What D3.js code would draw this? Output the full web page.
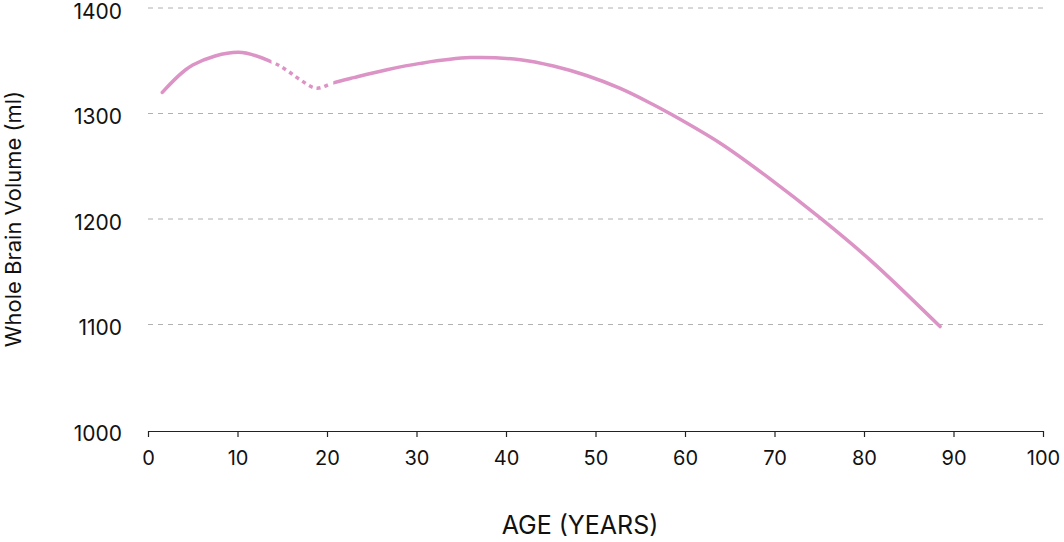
<!DOCTYPE html>
<html>
<head>
<meta charset="utf-8">
<script src="https://cdn.jsdelivr.net/npm/d3@7"></script>
<style>
  html, body { margin: 0; padding: 0; background: #fff; }
  svg { display: block; }
  text { font-family: Inter, "Noto Sans", sans-serif; fill: #111; }
</style>
</head>
<body>
<svg id="chart" width="1064" height="542"></svg>
<script>
// Data
const ages    = [1.6, 5.0, 10.1, 13.8, 15.5, 17.0, 18.8, 20.7, 23.0, 26.7, 30.4, 36.0, 41.6, 45.3, 49.0, 52.7, 56.1, 58.3, 63.9, 69.5, 75.1, 80.7, 88.5];
const volumes = [1320, 1346, 1358, 1349, 1341, 1332, 1324, 1329, 1334, 1341.5, 1347.5, 1353, 1351, 1345, 1336, 1324, 1310, 1300, 1272, 1238, 1201, 1161, 1098];
const dottedRange = [13.8, 20.7];
const xTicks = [0, 10, 20, 30, 40, 50, 60, 70, 80, 90, 100];
const yTicks = [1000, 1100, 1200, 1300, 1400];
const xTitle = "AGE (YEARS)";
const yTitle = "Whole Brain Volume (ml)";

(function () {
const svg = d3.select("#chart");
const mLeft = 148, mRight = 1043, mTop = 8, mBottom = 430;
const x = d3.scaleLinear().domain([0, 100]).range([mLeft, mRight]);
const y = d3.scaleLinear().domain([1000, 1400]).range([mBottom, mTop]);
const color = "#dc93c5";

// gridlines
svg.append("g").selectAll("line")
  .data(yTicks.filter(d => d > 1000))
  .join("line")
  .attr("x1", mLeft).attr("x2", mRight)
  .attr("y1", d => y(d)).attr("y2", d => y(d))
  .attr("stroke", "#b0b0b0").attr("stroke-width", 1)
  .attr("stroke-dasharray", "5,5");

// y labels
svg.append("g").selectAll("text")
  .data(yTicks)
  .join("text")
  .attr("x", 122).attr("y", d => y(d) + 3)
  .attr("dy", "0.36em")
  .attr("text-anchor", "end")
  .style("font-size", "21px")
  .text(d => d);

// x axis
const xAxis = svg.append("g")
  .attr("transform", `translate(0,${mBottom + 1})`)
  .call(d3.axisBottom(x).tickValues(xTicks).tickSize(6).tickSizeOuter(0).tickPadding(14));
xAxis.select(".domain").attr("stroke", "#222").attr("stroke-width", 1.2);
xAxis.selectAll(".tick line").attr("stroke", "#222").attr("stroke-width", 1.2);
xAxis.selectAll(".tick text").style("font-size", "20px").style("font-family", "Inter, 'Noto Sans', sans-serif").attr("fill", "#111");

// titles
svg.append("text")
  .attr("x", 580).attr("y", 534)
  .attr("text-anchor", "middle")
  .style("font-size", "25px")
  .text(xTitle);
svg.append("text")
  .attr("transform", `translate(21,219) rotate(-90)`)
  .attr("text-anchor", "middle")
  .style("font-size", "22px")
  .text(yTitle);

// line with clipping for solid/dotted segments
const data = ages.map((a, i) => ({ age: a, v: volumes[i] }));
const line = d3.line().x(d => x(d.age)).y(d => y(d.v)).curve(d3.curveCatmullRom.alpha(0.5));
const defs = svg.append("defs");
defs.append("clipPath").attr("id", "solidA").append("rect")
  .attr("x", 0).attr("y", 0).attr("width", x(dottedRange[0])).attr("height", 542);
defs.append("clipPath").attr("id", "solidB").append("rect")
  .attr("x", x(dottedRange[1])).attr("y", 0).attr("width", 1064 - x(dottedRange[1])).attr("height", 542);
defs.append("clipPath").attr("id", "dotted").append("rect")
  .attr("x", x(dottedRange[0]) + 3).attr("y", 0).attr("width", x(dottedRange[1]) - x(dottedRange[0]) - 6).attr("height", 542);

["solidA", "solidB"].forEach(id => {
  svg.append("path").datum(data)
    .attr("d", line)
    .attr("clip-path", `url(#${id})`)
    .attr("fill", "none").attr("stroke", color)
    .attr("stroke-width", 3.5).attr("stroke-linecap", "round");
});
svg.append("path").datum(data)
  .attr("d", line)
  .attr("clip-path", "url(#dotted)")
  .attr("fill", "none").attr("stroke", color)
  .attr("stroke-width", 3.5)
  .attr("stroke-dasharray", "4,4");
})();
</script>
</body>
</html>
